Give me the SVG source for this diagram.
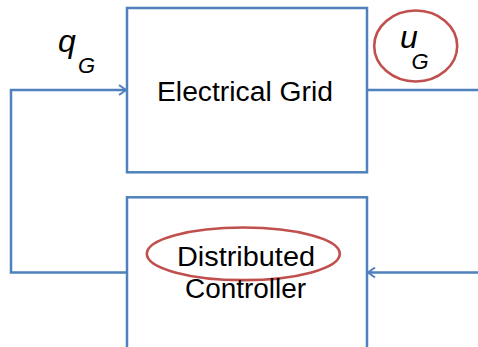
<svg xmlns="http://www.w3.org/2000/svg" width="478" height="347" viewBox="0 0 478 347">
<style>
.box{fill:#fff;stroke:#4F81BD;stroke-width:2.5}
.wire{fill:none;stroke:#4F81BD;stroke-width:2.5}
.oval{fill:none;stroke:#C0504D;stroke-width:2.6}
.lbl{font-family:"Liberation Sans",Arial,sans-serif;font-size:27px;fill:#000;text-anchor:middle}
.var{font-family:"Liberation Sans",Arial,sans-serif;font-style:italic;fill:#000}
</style>
<defs>
<marker id="arr" markerWidth="12" markerHeight="12" refX="9" refY="6" orient="auto" markerUnits="userSpaceOnUse">
<path d="M2,1 L9,6 L2,11" fill="none" stroke="#4F81BD" stroke-width="2"/>
</marker>
</defs>
<g id="connectors">
<path class="wire" d="M127,272.5 H11 V90 H126" marker-end="url(#arr)"/>
<path class="wire" d="M367,90 H478"/>
<path class="wire" d="M478,272.5 H368" marker-end="url(#arr)"/>
</g>
<g id="grid">
<rect class="box" x="127" y="8" width="240" height="164.3"/>
<text class="lbl" x="245" y="101" textLength="176" lengthAdjust="spacingAndGlyphs">Electrical Grid</text>
</g>
<g id="controller">
<rect class="box" x="127" y="197.3" width="240" height="160"/>
<ellipse class="oval" cx="243.3" cy="253.8" rx="96.5" ry="26.3"/>
<text class="lbl" x="246" y="266" textLength="138" lengthAdjust="spacingAndGlyphs">Distributed</text>
<text class="lbl" x="245.5" y="298" textLength="121" lengthAdjust="spacingAndGlyphs">Controller</text>
</g>
<g id="qG">
<text class="var" x="58" y="52" font-size="32">q</text>
<text class="var" x="78" y="72.7" font-size="22">G</text>
</g>
<g id="uG">
<ellipse class="oval" cx="415.7" cy="46" rx="41.5" ry="35.5"/>
<text class="var" x="400" y="48.3" font-size="32">u</text>
<text class="var" x="411.5" y="69" font-size="22">G</text>
</g>
</svg>
